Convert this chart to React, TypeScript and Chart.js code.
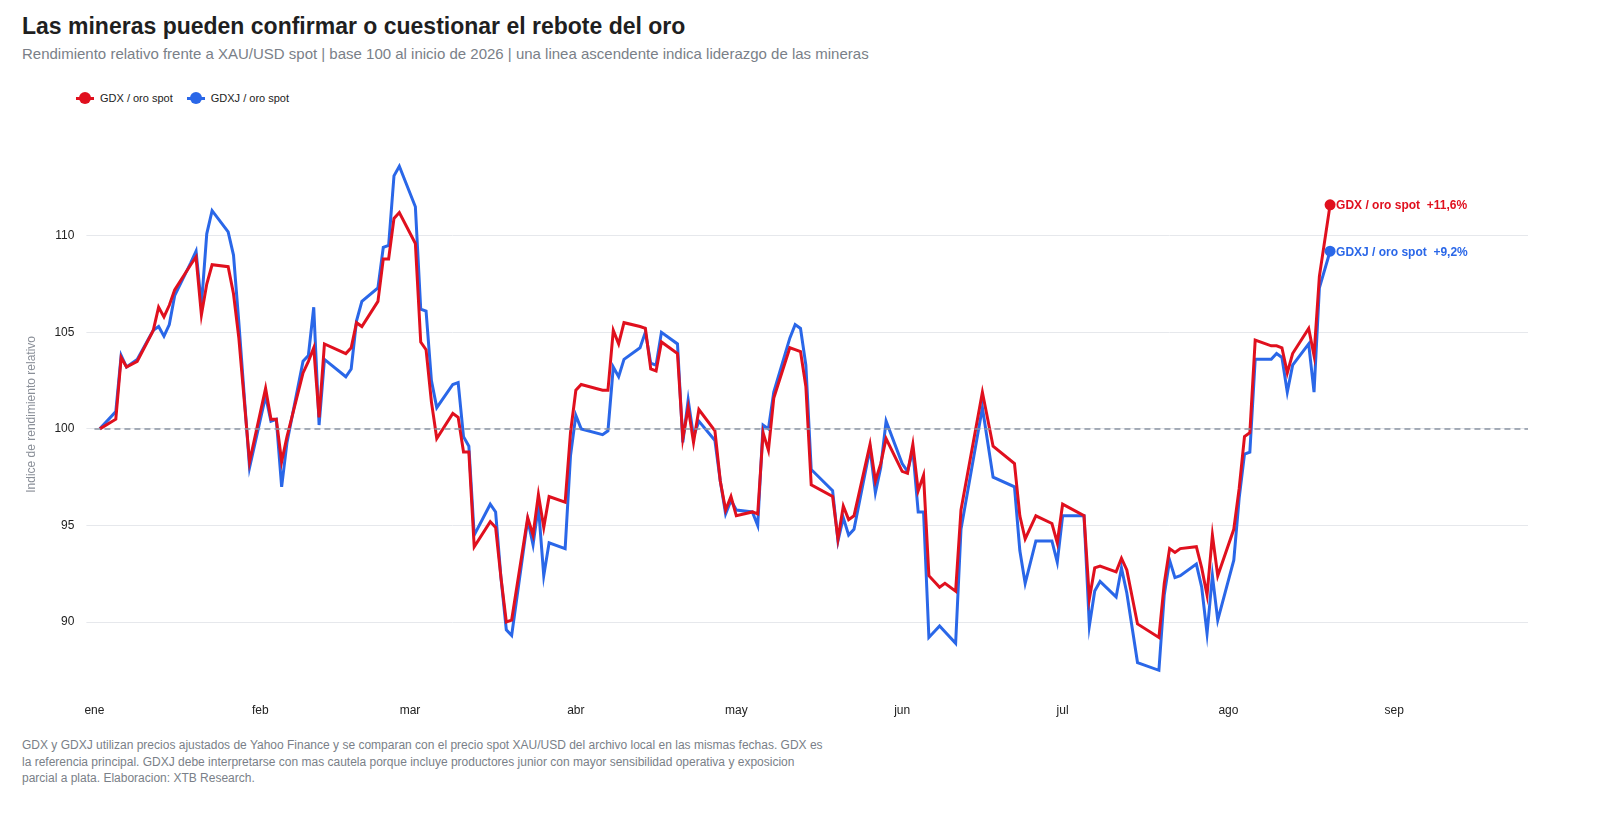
import React, { useEffect, useRef } from "react";
import { Chart, registerables } from "chart.js";
Chart.register(...registerables);

const days = [1,4,5,6,8,11,12,13,14,15,18,19,20,21,22,25,26,27,29,32,33,34,35,36,39,40,41,42,43,47,48,49,50,53,54,55,56,57,60,61,62,63,64,67,68,69,70,71,74,75,76,77,78,81,82,83,84,85,88,89,90,91,95,96,97,98,99,102,103,104,105,106,109,110,111,112,113,116,117,118,119,120,123,124,125,126,127,130,131,132,133,134,138,139,140,141,142,145,146,147,148,151,152,153,154,155,156,158,159,161,162,166,168,172,173,174,176,179,180,181,185,186,187,188,191,192,193,195,199,200,201,202,203,206,207,208,209,210,213,214,215,216,217,220,221,222,223,224,227,228,229,231];
const gdx = [100,100.5,103.7,103.2,103.5,105.1,106.3,105.8,106.4,107.2,108.5,108.9,105.9,107.5,108.5,108.4,107,104.7,98.3,102.1,100.5,100.5,98.3,99.6,102.9,103.5,104.2,100.6,104.4,103.9,104.2,105.5,105.3,106.6,108.8,108.8,110.9,111.2,109.6,104.5,104.1,101.4,99.5,100.8,100.6,98.8,98.8,93.9,95.2,94.9,92.3,90,90.1,95.4,94.5,96.6,94.9,96.5,96.2,99.8,102,102.3,102,102,105.1,104.4,105.5,105.3,105.2,103.1,103,104.5,103.9,99.5,101.1,99.3,101,99.9,97.3,95.8,96.5,95.5,95.7,95.6,99.8,98.9,101.6,104.2,104.1,104,102.2,97.1,96.5,94.3,96,95.3,95.5,99.2,97.3,98.2,99.5,97.8,97.7,99.2,96.8,97.6,92.4,91.8,92,91.6,95.8,101.9,99.1,98.2,95.5,94.3,95.5,95.1,94.1,96.1,95.5,91.2,92.8,92.9,92.6,93.3,92.7,89.9,89.2,92,93.8,93.6,93.8,93.9,92.8,91.4,94.5,92.4,94.8,96.9,99.6,99.8,104.6,104.3,104.3,104.2,102.9,103.9,105.2,103.8,107.9,111.6];
const gdxj = [100,100.9,103.8,103.2,103.6,105.1,105.3,104.8,105.4,106.9,108.6,109.2,106.4,110.1,111.3,110.2,109,105.5,98,101.7,100.4,100.5,97,99.3,103.5,103.8,106.3,100.2,103.6,102.7,103.1,105.6,106.6,107.3,109.4,109.5,113.1,113.6,111.5,106.2,106.1,102.5,101.1,102.3,102.4,99.6,99.1,94.5,96.1,95.7,92.3,89.6,89.3,95.3,94,96,92.4,94.1,93.8,98.6,100.7,100,99.7,99.9,103.2,102.7,103.6,104.2,105,103.4,103.3,105,104.4,99.3,101.5,99.6,100.4,99.4,97.3,95.6,96.3,95.8,95.7,95,100.2,100,101.9,104.7,105.4,105.2,103.3,97.9,96.8,94.2,95.4,94.5,94.8,99,96.7,98,100.4,98.2,97.8,98.9,95.7,95.7,89.2,89.8,89.5,88.9,94.8,101.1,97.5,97,93.7,92,94.2,94.2,93.1,95.5,95.5,89.8,91.6,92.1,91.3,92.8,91.5,87.9,87.5,91.4,93.2,92.3,92.4,93,91.8,89.4,92.4,90.1,93.2,96.4,98.7,98.8,103.6,103.6,103.9,103.7,101.9,103.3,104.4,101.9,107.3,109.2];
const monthStarts = [0,31,59,90,120,151,181,212,243];
const monthLabels = ["ene","feb","mar","abr","may","jun","jul","ago","sep"];
const yTicks = [90,95,100,105,110];
const seriesNames = ["GDX / oro spot", "GDXJ / oro spot"];
const endTexts = ["GDX / oro spot  +11,6%", "GDXJ / oro spot  +9,2%"];
const RED = "#e0101e";
const BLUE = "#2a67e8";
const FONT = "'Liberation Sans', Arial, sans-serif";

const endLabels = {
  id: "endLabels",
  afterDatasetsDraw(chart: any) {
    const ctx = chart.ctx;
    const ys = chart.scales.y;
    ctx.save();
    ctx.setLineDash([6, 4]);
    ctx.strokeStyle = "#8a94a3";
    ctx.lineWidth = 1.5;
    const y100 = ys.getPixelForValue(100);
    ctx.beginPath();
    ctx.moveTo(chart.chartArea.left, y100);
    ctx.lineTo(chart.chartArea.right, y100);
    ctx.stroke();
    ctx.setLineDash([]);
    chart.data.datasets.forEach((ds: any, i: number) => {
      const meta = chart.getDatasetMeta(i);
      const p = meta.data[meta.data.length - 1];
      ctx.fillStyle = ds.borderColor;
      ctx.beginPath();
      ctx.arc(p.x, p.y, 5.5, 0, Math.PI * 2);
      ctx.fill();
      ctx.font = "bold 12px " + FONT;
      ctx.textBaseline = "middle";
      ctx.fillText(endTexts[i], p.x + 6, p.y + 1);
    });
    ctx.restore();
  },
};

function LegendItem({ color, text }: { color: string; text: string }) {
  return (
    <span style={{ display: "inline-flex", alignItems: "center", marginRight: 14 }}>
      <span style={{ position: "relative", width: 18, height: 12, marginRight: 6 }}>
        <span style={{ position: "absolute", left: 0, right: 0, top: 5, height: 3, background: color }} />
        <span style={{ position: "absolute", left: 3, top: 0, width: 12, height: 12, borderRadius: 6, background: color }} />
      </span>
      {text}
    </span>
  );
}

export default function App() {
  const ref = useRef<HTMLCanvasElement>(null);
  useEffect(() => {
    const chart = new Chart(ref.current!, {
      type: "line",
      data: {
        datasets: [
          { label: seriesNames[0], data: days.map((d, i) => ({ x: d, y: gdx[i] })), borderColor: RED, backgroundColor: RED, borderWidth: 3, pointRadius: 0, tension: 0 },
          { label: seriesNames[1], data: days.map((d, i) => ({ x: d, y: gdxj[i] })), borderColor: BLUE, backgroundColor: BLUE, borderWidth: 3, pointRadius: 0, tension: 0 },
        ],
      },
      options: {
        animation: false,
        responsive: true,
        maintainAspectRatio: false,
        layout: { padding: { right: 40, top: 10, left: 12 } },
        plugins: { legend: { display: false }, tooltip: { enabled: false } },
        scales: {
          x: {
            type: "linear", min: 0, max: 268,
            afterBuildTicks: (s: any) => { s.ticks = monthStarts.map((v) => ({ value: v })); },
            ticks: { callback: (v: any) => monthLabels[monthStarts.indexOf(v)] ?? "", color: "#222", font: { size: 12, family: FONT }, maxRotation: 0, autoSkip: false, padding: 6 },
            grid: { display: false }, border: { display: false },
          },
          y: {
            min: 86.5, max: 115,
            afterBuildTicks: (s: any) => { s.ticks = yTicks.map((v) => ({ value: v })); },
            ticks: { color: "#222", font: { size: 12, family: FONT }, padding: 12 },
            grid: { color: "#e6e8ec" }, border: { display: false },
            title: { display: true, text: "Indice de rendimiento relativo", color: "#8a8f98", font: { size: 12, family: FONT } },
          },
        },
      },
      plugins: [endLabels],
    });
    return () => chart.destroy();
  }, []);
  return (
    <div style={{ fontFamily: FONT, position: "relative", height: 800 }}>
      <div style={{ position: "absolute", left: 14, top: 5, fontSize: 23, fontWeight: "bold", color: "#1f1f1f", whiteSpace: "nowrap" }}>Las mineras pueden confirmar o cuestionar el rebote del oro</div>
      <div style={{ position: "absolute", left: 14, top: 37, fontSize: 15, color: "#7a7f88", whiteSpace: "nowrap" }}>Rendimiento relativo frente a XAU/USD spot | base 100 al inicio de 2026 | una linea ascendente indica liderazgo de las mineras</div>
      <div style={{ position: "absolute", left: 68, top: 84, fontSize: 11, color: "#222", display: "flex" }}>
        <LegendItem color={RED} text={seriesNames[0]} />
        <LegendItem color={BLUE} text={seriesNames[1]} />
      </div>
      <div style={{ position: "absolute", left: 0, top: 112, width: 1560, height: 604 }}>
        <canvas ref={ref} />
      </div>
      <div style={{ position: "absolute", left: 14, top: 729, fontSize: 12, color: "#7a7f88", lineHeight: "16.5px", width: 810 }}>
        GDX y GDXJ utilizan precios ajustados de Yahoo Finance y se comparan con el precio spot XAU/USD del archivo local en las mismas fechas. GDX es la referencia principal. GDXJ debe interpretarse con mas cautela porque incluye productores junior con mayor sensibilidad operativa y exposicion parcial a plata. Elaboracion: XTB Research.
      </div>
    </div>
  );
}
